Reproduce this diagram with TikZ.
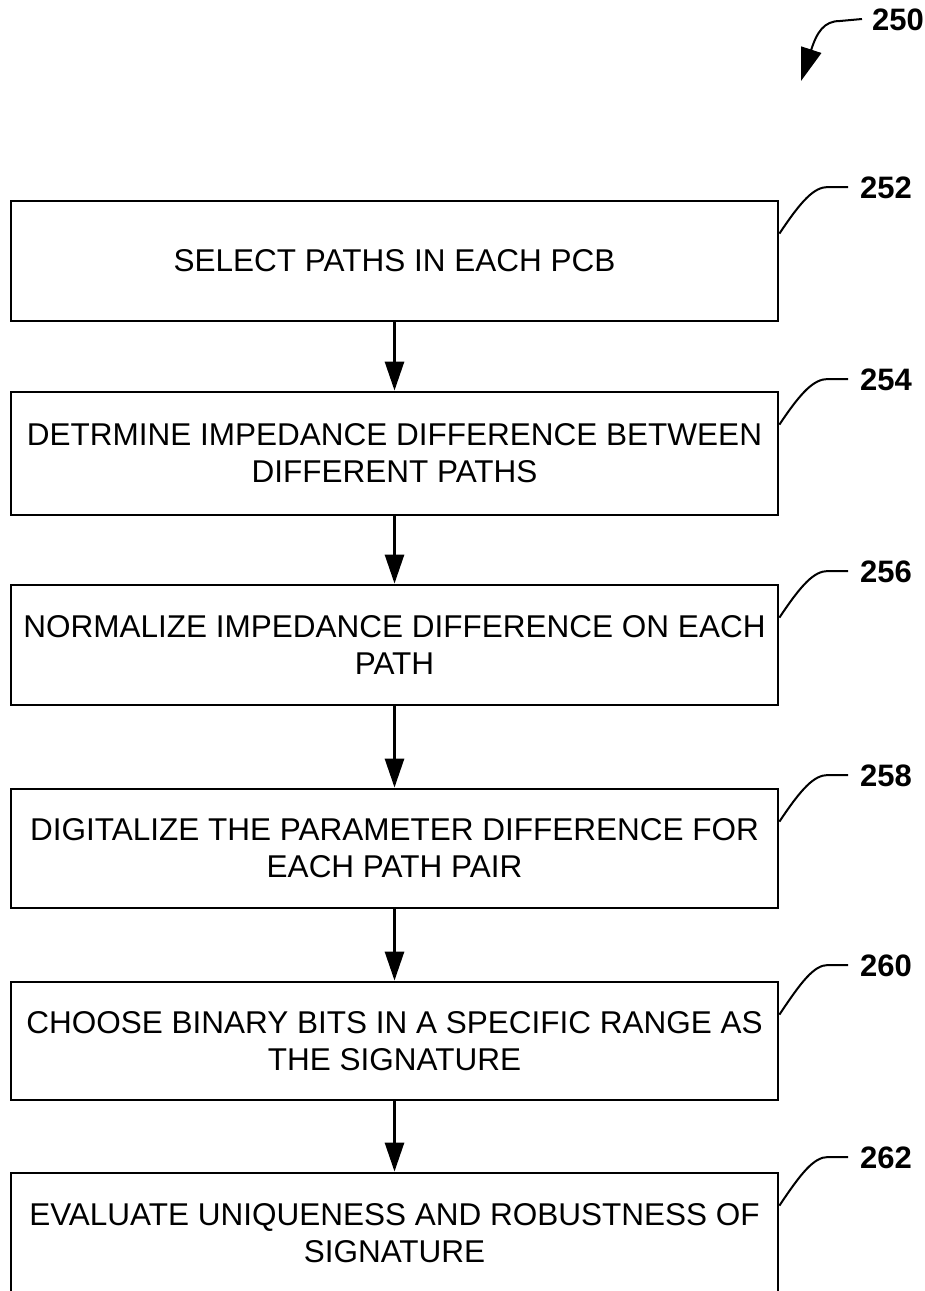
\documentclass[tikz,border=0pt]{standalone}
\usepackage{fontspec}
\setmainfont{Liberation Sans}
\usetikzlibrary{arrows.meta}
\tikzset{
  stepbox/.style={draw, line width=2.8pt, rectangle, minimum width=767pt,
    inner sep=0pt, align=center, font=\fontsize{31.5}{37}\selectfont},
  flow/.style={line width=2.8pt, -{Triangle[length=29pt,width=19pt]}},
  leader/.style={line width=2pt},
  reflabel/.style={font=\bfseries\fontsize{31}{36}\selectfont, anchor=west, inner sep=0pt},
}
\begin{document}
\begin{tikzpicture}[x=1pt,y=-1pt]
\useasboundingbox (0,0) rectangle (925,1291);
\clip (0,0) rectangle (925,1291);

% process steps
\node[stepbox, minimum height=120pt] (b1) at (394.5,261) {SELECT PATHS IN EACH PCB};
\node[stepbox, minimum height=123pt] (b2) at (394.5,453.5) {DETRMINE IMPEDANCE DIFFERENCE BETWEEN\\DIFFERENT PATHS};
\node[stepbox, minimum height=120pt] (b3) at (394.5,645) {NORMALIZE IMPEDANCE DIFFERENCE ON EACH\\PATH};
\node[stepbox, minimum height=119pt] (b4) at (394.5,848.5) {DIGITALIZE THE PARAMETER DIFFERENCE FOR\\EACH PATH PAIR};
\node[stepbox, minimum height=118pt] (b5) at (394.5,1041) {CHOOSE BINARY BITS IN A SPECIFIC RANGE AS\\THE SIGNATURE};
\node[stepbox, minimum height=120pt] (b6) at (394.5,1233) {EVALUATE UNIQUENESS AND ROBUSTNESS OF\\SIGNATURE};

% flow arrows
\draw[flow] (b1) -- (b2);
\draw[flow] (b2) -- (b3);
\draw[flow] (b3) -- (b4);
\draw[flow] (b4) -- (b5);
\draw[flow] (b5) -- (b6);

% reference numerals
\node[reflabel] (l250) at (872,20) {250};
\node[reflabel] (l252) at (860,188) {252};
\node[reflabel] (l254) at (860,380) {254};
\node[reflabel] (l256) at (860,572) {256};
\node[reflabel] (l258) at (860,776) {258};
\node[reflabel] (l260) at (860,966) {260};
\node[reflabel] (l262) at (860,1158) {262};

% leader lines: a diagonal rise that bends into a short horizontal run
\foreach \b/\l in {b1/l252, b2/l254, b3/l256, b4/l258, b5/l260, b6/l262}{
  \draw[leader] ([yshift=-34pt]\b.north east)
    .. controls +(22,-33) and +(-14,0) .. ([xshift=-32pt,yshift=1pt]\l.west)
    -- ([xshift=-12pt,yshift=1pt]\l.west);
}

% figure arrow
\coordinate (tip250) at (801,81);
\draw[line width=2pt, -{Triangle[length=33pt,width=21pt]}]
  ([xshift=-10pt,yshift=1pt]l250.west) -- (840,21)
  .. controls (824,21) and (817,32) .. (tip250);
\end{tikzpicture}
\end{document}
